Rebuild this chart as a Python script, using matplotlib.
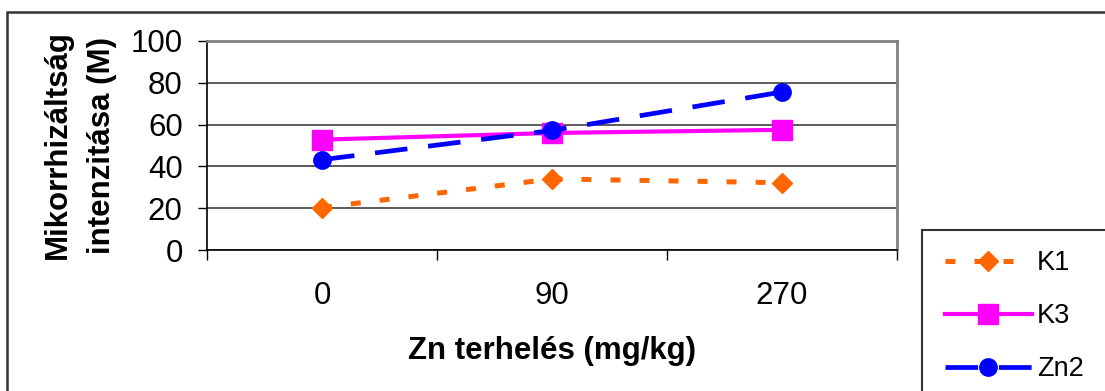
"""Mikorrhizáltság intenzitása vs Zn terhelés"""

import matplotlib.pyplot as plt
from matplotlib.patches import Rectangle

plt.rcParams['font.family'] = ['Liberation Sans', 'DejaVu Sans']
plt.rcParams['lines.scale_dashes'] = False

categories = ["0", "90", "270"]
series_names = ["K1", "K3", "Zn2"]
k1 = [20.3, 34.0, 32.2]
k3 = [52.8, 56.0, 57.5]
zn2 = [43.2, 57.2, 75.6]
y_ticks = [0, 20, 40, 60, 80, 100]

W, H = 1105, 391
fig = plt.figure(figsize=(W / 100, H / 100), dpi=100)

# outer chart border (runs off the right and bottom edges)
fig.patches.append(Rectangle((7 / W, -0.1), 1.2, 1 - 12 / H + 0.1,
                             transform=fig.transFigure, fill=False,
                             edgecolor='#333333', linewidth=1.8))

ax = fig.add_axes([207 / W, 1 - 250 / H, (897 - 207) / W, (250 - 41) / H])

x = list(range(len(categories)))
ax.plot(x, k1, color='#FF6600', linewidth=3.6, dashes=(7.2, 13.7),
        marker='D', markersize=10, label=series_names[0])
ax.plot(x, k3, color='#FF00FF', linewidth=3.0, linestyle='-',
        marker='s', markersize=14.5, label=series_names[1])
ax.plot(x, zn2, color='#0000FF', linewidth=3.4, dashes=(23.5, 15),
        marker='o', markersize=12.5, label=series_names[2])

ax.set_xlim(-0.5, len(categories) - 0.5)
ax.set_ylim(0, 100)
ax.set_yticks(y_ticks)
ax.set_yticklabels([str(v) for v in y_ticks])
ax.tick_params(axis='y', direction='out', length=6.5, width=1, pad=11,
               labelsize=22.5, color='black')

# category boundaries get tick marks, labels sit between them
ax.set_xticks([i - 0.5 for i in range(len(categories) + 1)])
ax.set_xticklabels([])
ax.set_xticks(x, minor=True)
ax.set_xticklabels(categories, minor=True)
ax.tick_params(axis='x', which='major', direction='out', length=7.5, width=1)
ax.tick_params(axis='x', which='minor', length=0, pad=22, labelsize=22.5)

ax.grid(axis='y', color='#404040', linewidth=1.2)
ax.set_axisbelow(True)
for side in ['top', 'right']:
    ax.spines[side].set_color('#808080')
    ax.spines[side].set_linewidth(2)
for side in ['left', 'bottom']:
    ax.spines[side].set_color('black')
    ax.spines[side].set_linewidth(1.2)

ax.set_xlabel("Zn terhelés (mg/kg)", fontsize=22.5, fontweight='bold', labelpad=18)
fig.text(80 / W, 1 - 145 / H, "Mikorrhizáltság\nintenzitása (M)",
         rotation=90, ha='center', va='center', fontsize=22.5,
         fontweight='bold', linespacing=1.6)

# legend box (runs off the figure edge)
fig.patches.append(Rectangle((922 / W, -0.1), 0.5, 1 - 230 / H + 0.1,
                             transform=fig.transFigure, fill=False,
                             edgecolor='#333333', linewidth=1.5))
fig.legend(loc='upper left', bbox_to_anchor=(945 / W, 1 - 250 / H),
           frameon=False, fontsize=19.5, handlelength=3.2, handletextpad=0.2,
           labelspacing=1.0, borderpad=0, borderaxespad=0)

plt.savefig("out.png", dpi=100)
